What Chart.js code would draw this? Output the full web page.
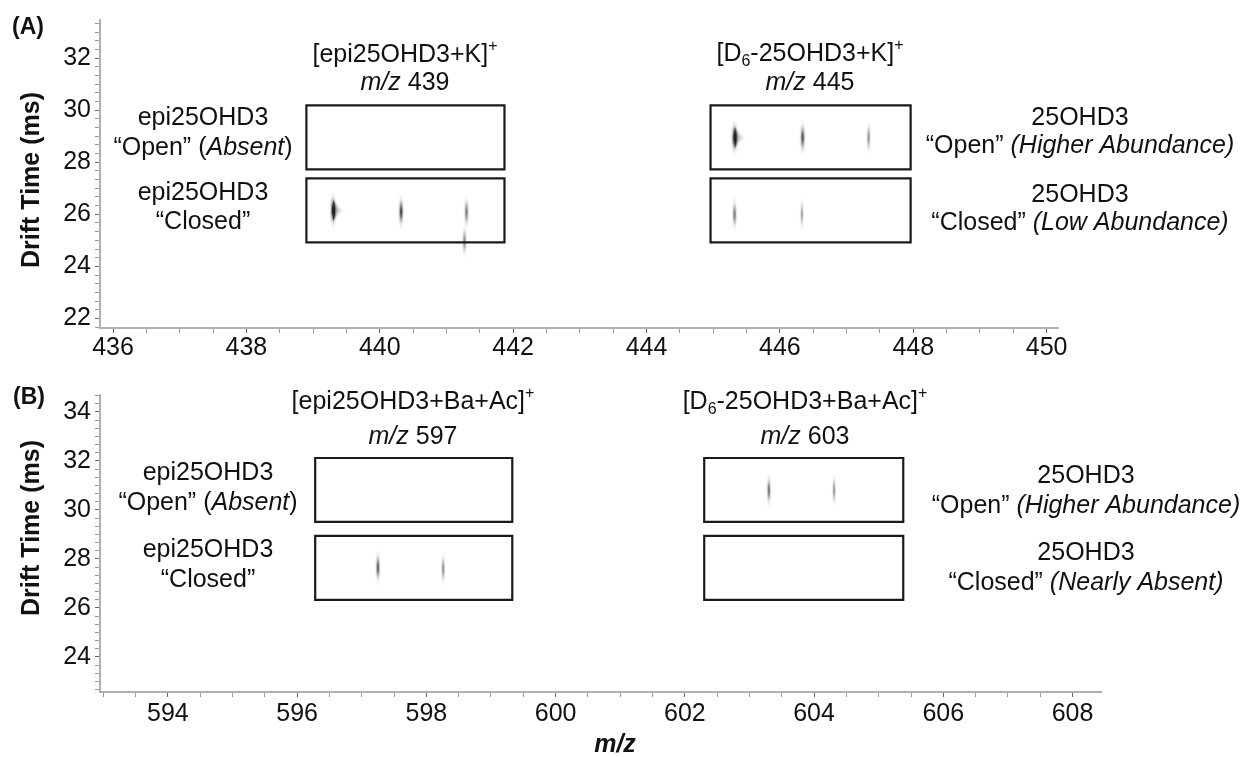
<!DOCTYPE html>
<html>
<head>
<meta charset="utf-8">
<script src="https://cdn.jsdelivr.net/npm/chart.js@4.4.1/dist/chart.umd.min.js"></script>
<style>
html, body { margin: 0; padding: 0; background: #fff; }
#wrap { position: relative; width: 1248px; height: 757px; }
#chartA { position: absolute; left: 0; top: 0; }
#chartB { position: absolute; left: 0; top: 375px; }
</style>
</head>
<body>
<div id="wrap">
  <canvas id="chartA" width="1248" height="375"></canvas>
  <canvas id="chartB" width="1248" height="382"></canvas>
</div>
<script>
var FAM = '"Liberation Sans", Arial, sans-serif';

// ---- panel (A): K+ adducts ----
var xTicksA = [436, 438, 440, 442, 444, 446, 448, 450];
var yTicksA = [22, 24, 26, 28, 30, 32];
var xRangeA = [435.805, 450.17];
var yRangeA = [21.63, 33.47];

// selection boxes (m/z from-to, drift from-to)
var boxA_mzLo = [438.9, 438.9, 444.96, 444.96];
var boxA_mzHi = [441.87, 441.87, 447.96, 447.96];
var boxA_dtLo = [27.73, 24.92, 27.73, 24.92];
var boxA_dtHi = [30.19, 27.38, 30.19, 27.38];

// isotope spots: m/z, drift time, relative intensity
var spotA_mz = [439.3, 440.32, 441.3, 441.27, 445.32, 446.34, 447.33, 445.32, 446.33];
var spotA_dt = [26.15, 26.1, 26.08, 24.97, 28.95, 28.95, 28.95, 26.0, 26.0];
var spotA_int = [1.0, 0.7, 0.45, 0.35, 1.0, 0.65, 0.3, 0.45, 0.2];

// ---- panel (B): Ba + acetate adducts ----
var xTicksB = [594, 596, 598, 600, 602, 604, 606, 608];
var yTicksB = [24, 26, 28, 30, 32, 34];
var xRangeB = [592.95, 608.44];
var yRangeB = [22.57, 34.69];

var boxB_mzLo = [596.28, 596.28, 602.3, 602.3];
var boxB_mzHi = [599.33, 599.33, 605.38, 605.38];
var boxB_dtLo = [29.51, 26.33, 29.51, 26.33];
var boxB_dtHi = [32.12, 28.94, 32.12, 28.94];

var spotB_mz = [597.25, 598.26, 603.3, 604.31];
var spotB_dt = [27.65, 27.6, 30.8, 30.8];
var spotB_int = [0.55, 0.3, 0.45, 0.25];

// small gray ellipse image used as point style for a spot
function makeSpot(level) {
  var w = 26, h = 36;
  var c = document.createElement('canvas');
  c.width = w; c.height = h;
  var g = c.getContext('2d');
  var img = g.createImageData(w, h);
  var sx = 0.75 + level * 0.6, sy = 6.2;
  for (var y = 0; y < h; y++) {
    for (var x = 0; x < w; x++) {
      var dx = x + 0.5 - w / 2, dy = y + 0.5 - h / 2;
      var v = Math.exp(-dx * dx / (2 * sx * sx) - dy * dy / (2 * sy * sy));
      if (level > 0.9 && dx > 0) {
        // heavy peaks smear to the right
        var reach = 8 * (1 - Math.abs(dy) / 11);
        if (reach > 0) {
          var s = reach * 0.55;
          v += 0.42 * Math.exp(-dx * dx / (2 * s * s));
        }
      }
      var a = Math.min(1, v * (0.28 + level * 0.85));
      var k = (y * w + x) * 4;
      img.data[k] = 30; img.data[k + 1] = 30; img.data[k + 2] = 30;
      img.data[k + 3] = Math.round(a * 255);
    }
  }
  g.putImageData(img, 0, 0);
  return c;
}

function boxDatasets(lo, hi, dLo, dHi) {
  return lo.map(function(x0, i) {
    var x1 = hi[i], y0 = dLo[i], y1 = dHi[i];
    return {
      type: 'line',
      data: [{x: x0, y: y0}, {x: x1, y: y0}, {x: x1, y: y1}, {x: x0, y: y1}, {x: x0, y: y0}],
      borderColor: '#1a1a1a',
      borderWidth: 2.2,
      borderJoinStyle: 'miter',
      borderCapStyle: 'square',
      pointRadius: 0,
      fill: false,
      tension: 0,
      order: 1
    };
  });
}

function spotDataset(mz, dt, level) {
  return {
    type: 'scatter',
    data: mz.map(function(x, i) { return {x: x, y: dt[i]}; }),
    pointStyle: level.map(function(l) { return makeSpot(l); }),
    pointRadius: 10,
    showLine: false,
    order: 2
  };
}

function isLabel(labels, v) {
  return labels.some(function(l) { return Math.abs(l - v) < 1e-6; });
}

function makeTicks(step, min, max) {
  var out = [];
  var k0 = Math.ceil(min / step - 1e-9), k1 = Math.floor(max / step + 1e-9);
  for (var k = k0; k <= k1; k++) out.push({value: k * step});
  return out;
}

function axis(labels, range, step, size, pad) {
  var horizontal = size.height !== undefined;
  return {
    type: 'linear',
    min: range[0],
    max: range[1],
    afterBuildTicks: function(s) { s.ticks = makeTicks(step, s.min, s.max); },
    afterFit: function(s) {
      if (horizontal) s.height = size.height; else s.width = size.width;
    },
    ticks: {
      autoSkip: false,
      maxRotation: 0,
      minRotation: 0,
      padding: pad,
      color: '#111',
      font: {family: FAM, size: 25, lineHeight: 1},
      callback: function(v) { return isLabel(labels, v) ? String(Math.round(v)) : ''; }
    },
    grid: {
      drawOnChartArea: false,
      drawTicks: true,
      tickLength: 5,
      tickWidth: 1,
      tickColor: function(c) { return c.tick && isLabel(labels, c.tick.value) ? '#666' : '#9a9a9a'; }
    },
    border: {display: true, color: '#b0b0b0', width: 2}
  };
}

// rich text: <i>..</i>, <sup>..</sup>, <sub>..</sub>
function fontFor(kind, it) {
  var w = it.bold ? 'bold ' : '';
  var st = (kind === 'i' || it.italic) ? 'italic ' : '';
  var sz = (kind === 'sup' || kind === 'sub') ? Math.round(it.size * 0.64) : it.size;
  return st + w + sz + 'px ' + FAM;
}

function drawRich(ctx, it) {
  var parts = [], re = /<(i|sup|sub)>(.*?)<\/\1>|([^<]+)/g, m;
  while ((m = re.exec(it.s))) {
    parts.push(m[3] !== undefined ? {t: m[3], k: ''} : {t: m[2], k: m[1]});
  }
  var total = 0;
  parts.forEach(function(p) {
    ctx.font = fontFor(p.k, it);
    p.w = ctx.measureText(p.t).width;
    total += p.w;
  });
  ctx.save();
  ctx.translate(it.x, it.y);
  if (it.rot) ctx.rotate(-Math.PI / 2);
  ctx.textBaseline = 'middle';
  ctx.textAlign = 'left';
  var x = it.align === 'left' ? 0 : -total / 2;
  parts.forEach(function(p) {
    ctx.font = fontFor(p.k, it);
    var dy = p.k === 'sup' ? -it.size * 0.33 : (p.k === 'sub' ? it.size * 0.3 : 0);
    ctx.fillText(p.t, x, dy);
    x += p.w;
  });
  ctx.restore();
}

function notesPlugin(items) {
  return {
    id: 'notes',
    afterDraw: function(chart) {
      var ctx = chart.ctx;
      ctx.save();
      ctx.fillStyle = '#111';
      items.forEach(function(it) {
        drawRich(ctx, Object.assign({size: 25}, it));
      });
      ctx.restore();
    }
  };
}

var notesA = [
  {x: 12, y: 28, s: '(A)', bold: true, size: 23, align: 'left'},
  {x: 32, y: 180, s: 'Drift Time (ms)', bold: true, rot: true},
  {x: 405, y: 55, s: '[epi25OHD3+K]<sup>+</sup>'},
  {x: 405, y: 83, s: '<i>m/z</i> 439'},
  {x: 810, y: 54, s: '[D<sub>6</sub>-25OHD3+K]<sup>+</sup>'},
  {x: 810, y: 83, s: '<i>m/z</i> 445'},
  {x: 203, y: 118, s: 'epi25OHD3'},
  {x: 203, y: 148, s: '“Open” (<i>Absent</i>)'},
  {x: 203, y: 193, s: 'epi25OHD3'},
  {x: 203, y: 222, s: '“Closed”'},
  {x: 1080, y: 118, s: '25OHD3'},
  {x: 1080, y: 146, s: '“Open” <i>(Higher Abundance)</i>'},
  {x: 1080, y: 195, s: '25OHD3'},
  {x: 1080, y: 223, s: '“Closed” <i>(Low Abundance)</i>'}
];

// panel B canvas starts 375px lower
var notesB = [
  {x: 13, y: 23, s: '(B)', bold: true, size: 23, align: 'left'},
  {x: 32, y: 153, s: 'Drift Time (ms)', bold: true, rot: true},
  {x: 413, y: 27, s: '[epi25OHD3+Ba+Ac]<sup>+</sup>'},
  {x: 413, y: 62, s: '<i>m/z</i> 597'},
  {x: 805, y: 27, s: '[D<sub>6</sub>-25OHD3+Ba+Ac]<sup>+</sup>'},
  {x: 805, y: 62, s: '<i>m/z</i> 603'},
  {x: 208, y: 98, s: 'epi25OHD3'},
  {x: 208, y: 128, s: '“Open” (<i>Absent</i>)'},
  {x: 208, y: 175, s: 'epi25OHD3'},
  {x: 208, y: 205, s: '“Closed”'},
  {x: 1086, y: 101, s: '25OHD3'},
  {x: 1086, y: 131, s: '“Open” <i>(Higher Abundance)</i>'},
  {x: 1086, y: 178, s: '25OHD3'},
  {x: 1086, y: 208, s: '“Closed” <i>(Nearly Absent)</i>'},
  {x: 615, y: 370, s: 'm/z', bold: true, italic: true}
];

function makeChart(id, boxes, spots, xAxis, yAxis, pad, notes) {
  return new Chart(document.getElementById(id).getContext('2d'), {
    type: 'scatter',
    data: { datasets: [spots].concat(boxes) },
    options: {
      responsive: false,
      animation: false,
      events: [],
      layout: { padding: pad },
      plugins: { legend: {display: false}, tooltip: {enabled: false} },
      scales: { x: xAxis, y: yAxis }
    },
    plugins: [notesPlugin(notes)]
  });
}

makeChart('chartA',
  boxDatasets(boxA_mzLo, boxA_mzHi, boxA_dtLo, boxA_dtHi),
  spotDataset(spotA_mz, spotA_dt, spotA_int),
  axis(xTicksA, xRangeA, 0.5, {height: 47}, 3),
  axis(yTicksA, yRangeA, 1 / 3, {width: 100}, 4),
  {left: 0, top: 20, right: 190, bottom: 0},
  notesA);

makeChart('chartB',
  boxDatasets(boxB_mzLo, boxB_mzHi, boxB_dtLo, boxB_dtHi),
  spotDataset(spotB_mz, spotB_dt, spotB_int),
  axis(xTicksB, xRangeB, 0.5, {height: 65}, 5),
  axis(yTicksB, yRangeB, 1 / 3, {width: 100}, 4),
  {left: 0, top: 20, right: 147, bottom: 0},
  notesB);
</script>
</body>
</html>
